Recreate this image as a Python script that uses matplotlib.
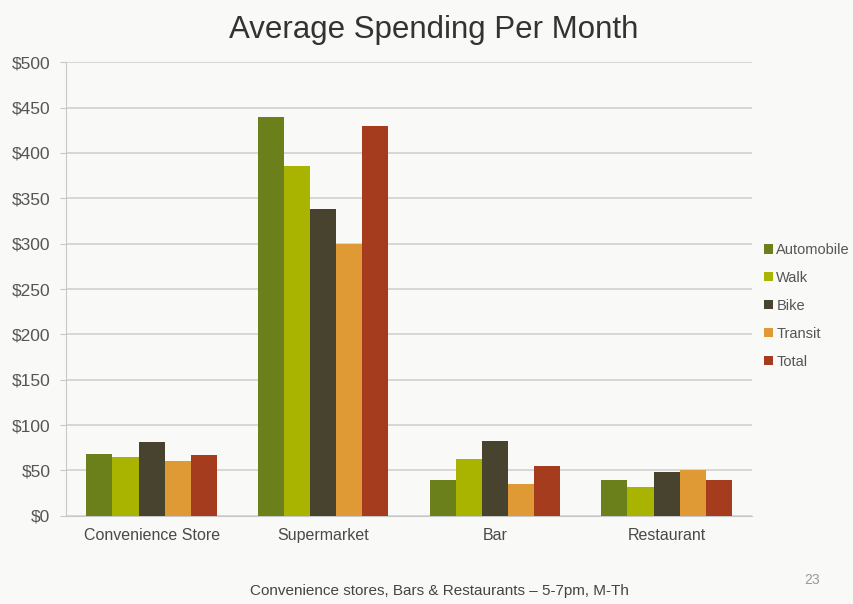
import numpy as np
import matplotlib.pyplot as plt

plt.rcParams['font.family'] = ['Liberation Sans', 'DejaVu Sans']

categories = ['Convenience Store', 'Supermarket', 'Bar', 'Restaurant']
series_names = ['Automobile', 'Walk', 'Bike', 'Transit', 'Total']
automobile = [68, 440, 40, 40]
walk = [65, 386, 63, 32]
bike = [81, 338, 82, 48]
transit = [60, 300, 35, 50]
total = [67, 430, 55, 39]
colors = ['#6b7f1a', '#a8b400', '#47432f', '#e09a35', '#a63c1e']

values = [automobile, walk, bike, transit, total]

bg = '#f9f9f7'
fig = plt.figure(figsize=(8.54, 6.04), dpi=100, facecolor=bg)
ax = fig.add_axes([0.077, 0.146, 0.804, 0.751], facecolor=bg)

x = np.arange(len(categories))
width = 0.152
for i, (name, vals) in enumerate(zip(series_names, values)):
    ax.bar(x + (i - 2) * width, vals, width, color=colors[i], label=name, zorder=3)

ax.set_xlim(-0.5, len(categories) - 0.5)
ax.set_ylim(0, 500)
ax.set_yticks(range(0, 501, 50))
ax.set_yticklabels(['$' + str(v) for v in range(0, 501, 50)])
ax.set_xticks(x)
ax.set_xticklabels(categories)
ax.grid(axis='y', color='#d4d4d4', linewidth=1.3, zorder=0)
for s in ['top', 'right']:
    ax.spines[s].set_visible(False)
ax.spines['left'].set_color('#c8c8c8')
ax.spines['bottom'].set_color('#c8c8c8')
ax.tick_params(axis='y', length=4, color='#c8c8c8', labelsize=12.5, labelcolor='#555555', pad=7)
ax.tick_params(axis='x', length=0, labelsize=11.5, labelcolor='#4a4a4a', pad=9)

leg = ax.legend(loc='center left', bbox_to_anchor=(1.0, 0.463), frameon=False,
                fontsize=10.5, handlelength=0.6, handleheight=0.6, handletextpad=0.25,
                labelspacing=0.95, borderaxespad=0.4)
for t in leg.get_texts():
    t.set_color('#555555')

fig.text(0.508, 0.95, 'Average Spending Per Month', ha='center', va='center',
         fontsize=22.5, color='#333333')
fig.text(0.515, 0.022, 'Convenience stores, Bars & Restaurants \u2013 5-7pm, M-Th',
         ha='center', va='center', fontsize=11, color='#444444')
fig.text(0.951, 0.04, '23', ha='center', va='center', fontsize=10, color='#999999')

fig.savefig('out.png', dpi=100, facecolor=bg)
